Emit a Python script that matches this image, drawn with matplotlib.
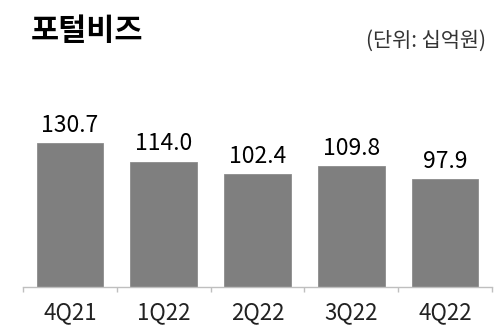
import matplotlib
matplotlib.use("Agg")
import matplotlib.pyplot as plt
import numpy as np

plt.rcParams['font.family'] = ['Noto Sans CJK KR', 'DejaVu Sans']

# data
quarters = ["4Q21", "1Q22", "2Q22", "3Q22", "4Q22"]
values = [130.7, 114.0, 102.4, 109.8, 97.9]

title = "포털비즈"
unit = "(단위: 십억원)"

fig = plt.figure(figsize=(5, 3.29), dpi=100)
ax = fig.add_axes([0.046, 0.1277, 0.938, 0.5015])

x = np.arange(len(quarters))
ax.bar(x, values, width=0.71, color="#7f7f7f", edgecolor="#8c8c8c", linewidth=0.6)

for xi, v in zip(x, values):
    ax.annotate(f"{v:.1f}", (xi, v), xytext=(0, 8), textcoords="offset points",
                ha="center", va="baseline", fontsize=16.5, color="#000000",
                annotation_clip=False)

ax.set_xlim(-0.5, len(quarters) - 0.5)
ax.set_ylim(0, 150)
ax.set_yticks([])
ax.set_xticks(x)
ax.set_xticklabels(quarters, fontsize=16, color="#222222")
ax.set_xticks(np.arange(-0.5, len(quarters)), minor=True)
ax.tick_params(axis="x", which="major", length=0, pad=10)
ax.tick_params(axis="x", which="minor", length=3.5, color="#bfbfbf", width=1)

for s in ["top", "right", "left"]:
    ax.spines[s].set_visible(False)
ax.spines["bottom"].set_color("#bfbfbf")
ax.spines["bottom"].set_linewidth(1)

fig.text(0.062, 0.905, title, fontsize=22, fontweight="bold", ha="left", va="center", color="#000000")
fig.text(0.972, 0.875, unit, fontsize=15, ha="right", va="center", color="#333333")

fig.savefig("out.png", dpi=100)
